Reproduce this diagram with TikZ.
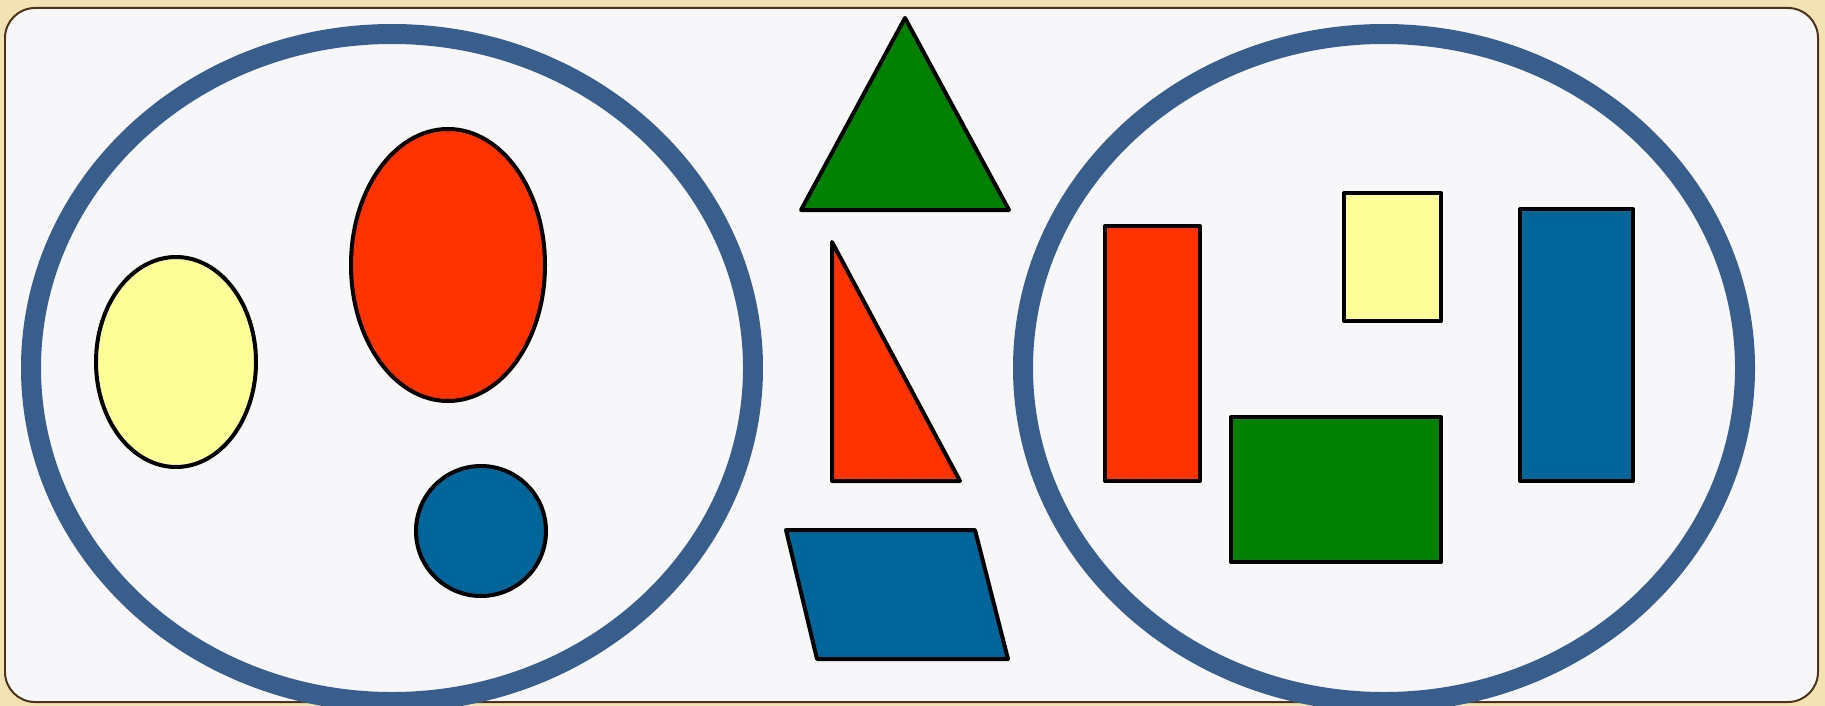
\documentclass[tikz,border=0pt]{standalone}
\definecolor{cream}{HTML}{F3E2B4}
\definecolor{panel}{HTML}{F7F7F9}
\definecolor{ringblue}{HTML}{395E8B}
\definecolor{shyellow}{HTML}{FFFF99}
\definecolor{shred}{HTML}{FF3300}
\definecolor{shblue}{HTML}{006699}
\definecolor{shgreen}{HTML}{008000}
\tikzset{
  ring/.style={draw=ringblue,line width=0.4cm},
  piece/.style={draw=black,line width=0.08cm,line join=round}
}
\begin{document}
\begin{tikzpicture}[x=0.02cm,y=-0.02cm]
\fill[cream] (0,0) rectangle (1825,706);
\useasboundingbox (0,0) rectangle (1825,706);
\draw[fill=panel,draw=black!60!brown,line width=0.04cm,rounded corners=0.6cm] (5,8) rectangle (1818,702);
% sets
\draw[ring] (392,368) ellipse [x radius=361,y radius=334];
\draw[ring] (1384,368) ellipse [x radius=361,y radius=334];
% round shapes
\draw[piece,fill=shyellow] (176,362) ellipse [x radius=80,y radius=105];
\draw[piece,fill=shred] (448,265) ellipse [x radius=97,y radius=136];
\draw[piece,fill=shblue] (481,531) circle [radius=65];
% polygons in the middle
\draw[piece,fill=shgreen] (905,18) -- (1009,210) -- (801,210) -- cycle;
\draw[piece,fill=shred] (832,242) -- (960,481) -- (832,481) -- cycle;
\draw[piece,fill=shblue] (786,530) -- (975,530) -- (1008,659) -- (817,659) -- cycle;
% rectangles
\draw[piece,fill=shred] (1105,226) rectangle (1200,481);
\draw[piece,fill=shyellow] (1344,193) rectangle (1441,321);
\draw[piece,fill=shblue] (1520,209) rectangle (1633,481);
\draw[piece,fill=shgreen] (1231,417) rectangle (1441,562);
\end{tikzpicture}
\end{document}
